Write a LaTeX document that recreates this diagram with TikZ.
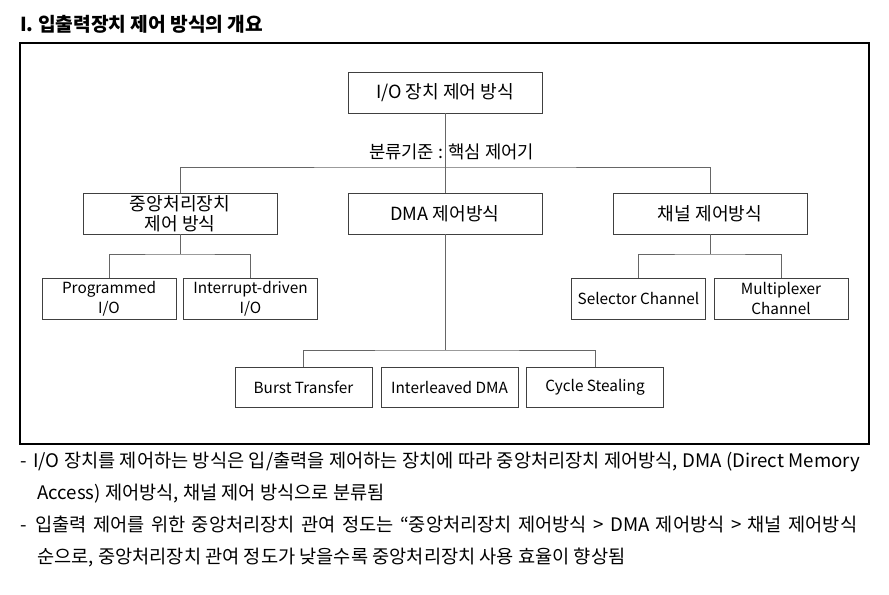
\documentclass[tikz,border=0pt]{standalone}
\usepackage{fontspec}
\setmainfont{Noto Sans CJK KR}
\usetikzlibrary{positioning}

\tikzset{
  box/.style={draw=black!75, line width=0.6pt, minimum width=145.5pt, minimum height=30.75pt,
    align=center, inner sep=1pt, font=\fontsize{13.6}{15}\selectfont},
  leaf/.style={box, minimum width=100.5pt, font=\fontsize{11.5}{15}\selectfont},
  link/.style={draw=black!60, line width=0.6pt},
  bodytext/.style={anchor=base west, inner sep=0pt, font=\fontsize{14}{15}\selectfont}
}

\begin{document}
\begin{tikzpicture}[x=0.75pt, y=-0.75pt]
    \useasboundingbox (0,0) rectangle (889,594);
    % title and frame
    \node[anchor=base west, inner sep=0pt, font=\bfseries\fontsize{14.4}{15}\selectfont] (title) at (20,31) {I. 입출력장치 제어 방식의 개요};
    \draw[line width=1.1pt] (20,43) rectangle (869,444);

    % boxes
    \node[box] (root) at (445,92.5) {I/O 장치 제어 방식};
    \node[box] (cpu) at (180,213.5) {중앙처리장치\\제어 방식};
    \node[box] (dma) at (445,213.5) {DMA 제어방식};
    \node[box] (chan) at (710,213.5) {채널 제어방식};
    \node[leaf] (prog) at (109,298.5) {Programmed\\I/O};
    \node[leaf] (intr) at (250.5,298.5) {Interrupt-driven\\I/O};
    \node[leaf] (sel) at (638.5,298.5) {Selector Channel};
    \node[leaf] (mux) at (781,298.5) {Multiplexer\\Channel};
    \node[leaf, minimum width=102.75pt, minimum height=30pt] (burst) at (303.5,387) {Burst Transfer};
    \node[leaf, minimum width=102.75pt, minimum height=30pt] (inter) at (449.5,387) {Interleaved DMA};
    \node[leaf, minimum width=102.75pt, minimum height=30pt] (cycle) at (595,387) {Cycle Stealing};
    \node[font=\fontsize{13.3}{15}\selectfont] (crit) at (451.5,152) {분류기준 : 핵심 제어기};

    % connectors
    \coordinate (jroot) at (445,167);
    \coordinate (jcpu) at (180,254);
    \coordinate (jchan) at (710,254);
    \coordinate (jdma) at (445,350);
    \draw[link] (root) -- (dma);
    \draw[link] (cpu.north) |- (jroot) -| (chan.north);
    \foreach \p/\j in {cpu/jcpu, chan/jchan, dma/jdma}
        \draw[link] (\p) -- (\j);
    \draw[link] (prog.north) |- (jcpu) -| (intr.north);
    \draw[link] (sel.north) |- (jchan) -| (mux.north);
    \draw[link] (burst.north) |- (jdma) -| (cycle.north);

    % notes below the frame
    \node[bodytext] (dash1) at (20,467) {-};
    \node[bodytext] (note1) at (33,467) {\makebox[620.25pt][s]{I/O 장치를 제어하는 방식은 입/출력을 제어하는 장치에 따라 중앙처리장치 제어방식, DMA (Direct Memory}};
    \node[bodytext] (note2) at (37,499) {Access) 제어방식, 채널 제어 방식으로 분류됨};
    \node[bodytext] (dash2) at (20,531) {-};
    \node[bodytext] (note3) at (35,531) {\makebox[616.5pt][s]{입출력 제어를 위한 중앙처리장치 관여 정도는 “중앙처리장치 제어방식 > DMA 제어방식 > 채널 제어방식}};
    \node[bodytext] (note4) at (37,563) {순으로, 중앙처리장치 관여 정도가 낮을수록 중앙처리장치 사용 효율이 향상됨};
\end{tikzpicture}
\end{document}
